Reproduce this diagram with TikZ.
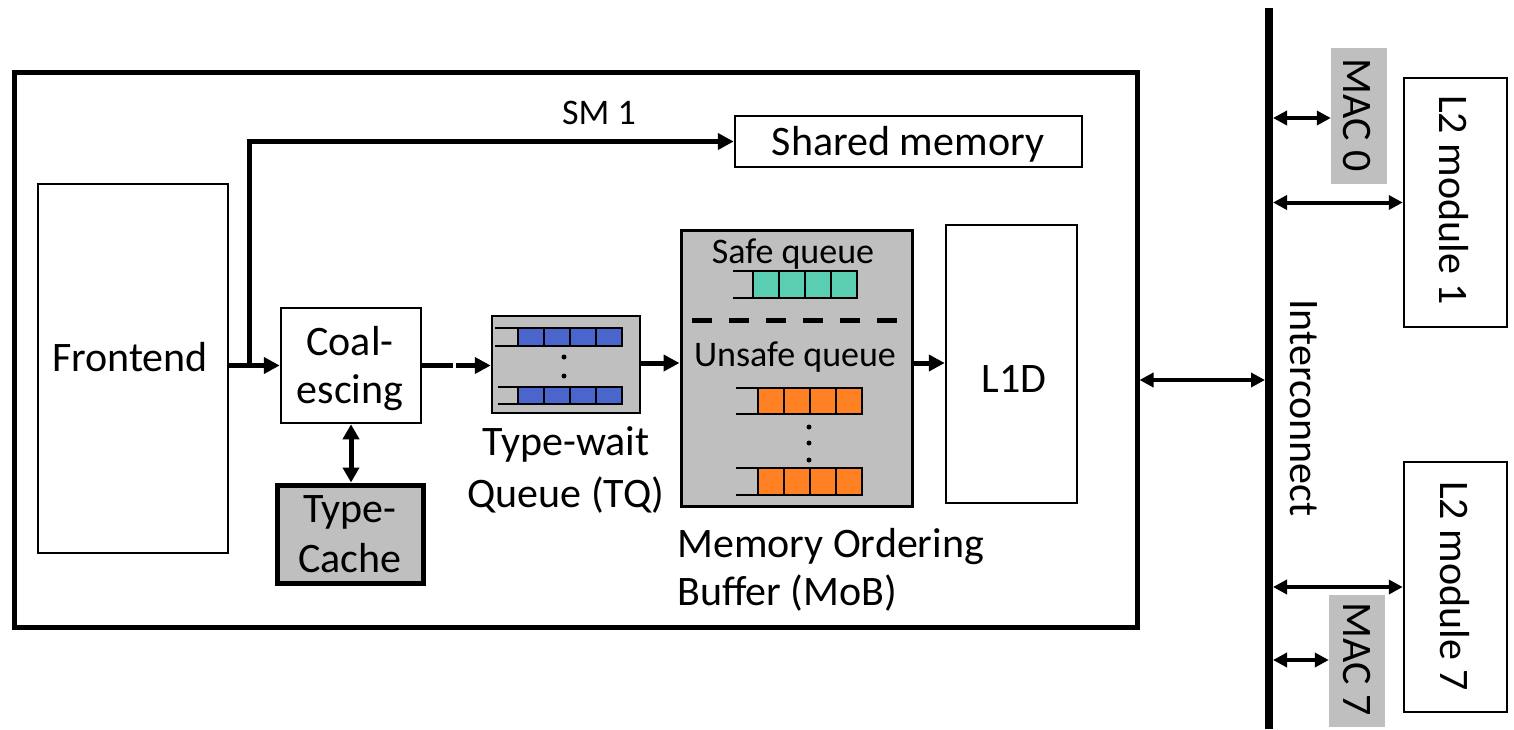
\documentclass[tikz,border=0pt]{standalone}
\usepackage{fontspec}
\setmainfont{Carlito}
\usetikzlibrary{arrows.meta}
\definecolor{boxgray}{HTML}{BFBFBF}
\definecolor{qblue}{HTML}{4A66CC}
\definecolor{qteal}{HTML}{5BCDB0}
\definecolor{qorange}{HTML}{FF8124}

% one queue: open bracket from #1 to #2, four cells from #2, top #3, height #4, colour #5
\newcommand\drawqueue[5]{%
  \draw[line width=2.2pt] (#1,#3) -- (#2,#3) (#1,#3+#4) -- (#2,#3+#4);
  \foreach \k in {0,...,3}
    \draw[line width=2.2pt, fill=#5] (#2+26*\k,#3) rectangle ++(26,#4);
}

\begin{document}
\begin{tikzpicture}[x=1pt,y=-1pt,
  block/.style={draw, line width=2.5pt, fill=white, inner sep=0pt},
  graybox/.style={block, fill=boxgray},
  arr/.style={line width=5pt, -{Triangle[length=16pt,width=16pt]}},
  dbl/.style={line width=4pt, {Triangle[length=14pt,width=14pt]}-{Triangle[length=14pt,width=14pt]}},
  dblthick/.style={line width=5pt, {Triangle[length=15pt,width=16pt]}-{Triangle[length=15pt,width=16pt]}},
  lbl/.style={inner sep=0pt, anchor=base, font=\fontsize{42}{50}\selectfont},
  smalllbl/.style={lbl, font=\fontsize{36}{42}\selectfont},
  vlbl/.style={inner sep=0pt, rotate=-90, font=\fontsize{42}{50}\selectfont},
  qdot/.style={fill=black, draw=none}
]
\useasboundingbox[fill=white] (0,0) rectangle (1514,729);

% streaming multiprocessor frame
\node[draw, line width=5pt, minimum width=1123pt, minimum height=555pt, inner sep=0pt] (sm) at (575.5,349.5) {};
\node[smalllbl] (smlbl) at (599,124) {SM 1};

% blocks inside the SM
\node[block, minimum width=190pt, minimum height=369pt] (fe) at (133,368.5) {};
\node[lbl] (fetxt) at (130,371) {Frontend};

\node[block, minimum width=140pt, minimum height=115pt] (co) at (351,365.5) {};
\node[lbl] (cotxt1) at (350,355) {Coal-};
\node[lbl] (cotxt2) at (350,403) {escing};

\node[graybox, line width=5pt, minimum width=146pt, minimum height=98pt] (tc) at (350,534) {};
\node[lbl] (tctxt1) at (350,522) {Type-};
\node[lbl] (tctxt2) at (350,572) {Cache};

\node[graybox, minimum width=148pt, minimum height=97pt] (tq) at (566,364.5) {};
\node[lbl] (tqtxt1) at (566,455) {Type-wait};
\node[lbl] (tqtxt2) at (566,507) {Queue (TQ)};

\node[graybox, line width=3pt, minimum width=231pt, minimum height=276pt] (mob) at (796.5,368) {};
\node[lbl, anchor=base west] (mobtxt1) at (677,557) {Memory Ordering};
\node[lbl, anchor=base west] (mobtxt2) at (677,605) {Buffer (MoB)};

\node[block, minimum width=131pt, minimum height=278pt] (l1d) at (1011.5,364) {};
\node[lbl] (l1dtxt) at (1014,392) {L1D};

\node[block, minimum width=347pt, minimum height=51pt] (sh) at (908.5,141.5) {};
\node[lbl] (shtxt) at (908,155) {Shared memory};

% queues of the type-wait queue
\drawqueue{495}{518}{328}{18}{qblue}
\drawqueue{498}{518}{387}{17}{qblue}
\fill[qdot] (564,357) circle (2.5pt) (564,376) circle (2.5pt);

% safe and unsafe queues of the MoB
\node[smalllbl] (safetxt) at (793,263) {Safe queue};
\drawqueue{733}{753}{271}{27}{qteal}
\draw[line width=5pt, dash pattern=on 20pt off 17pt] (692,320) -- (899,320);
\node[smalllbl] (unsafetxt) at (795,366) {Unsafe queue};
\drawqueue{736}{758}{388}{26}{qorange}
\drawqueue{736}{758}{468}{27}{qorange}
\fill[qdot] (809,427) circle (2.5pt) (809,443) circle (2.5pt) (809,460) circle (2.5pt);

% data path inside the SM
\coordinate (br) at (249,365.5);
\draw[arr] (fe.east |- co.west) -- (co.west);
\draw[arr] (br) |- (sh.west);
\draw[arr, dash pattern=on 31pt off 3pt on 300pt] (co.east) -- (tq.west |- co.east);
\draw[arr] (tq.east |- 0,363) -- (mob.west |- 0,363);
\draw[arr] (mob.east |- 0,363) -- (l1d.west |- 0,363);
\draw[dblthick] (co.south) -- (co.south |- tc.north);

% interconnect bus
\coordinate (busT) at (1269,8);
\coordinate (busB) at (1269,729);
\coordinate (busR) at (1273,0);
\coordinate (smbus) at (1265,380);
\draw[line width=8pt] (busT) -- (busB);
\node[vlbl] (bustxt) at (1304,408) {Interconnect};
\draw[dbl] (sm.east |- smbus) -- (smbus);

% memory controllers and L2 modules
\node[fill=boxgray, minimum width=56pt, minimum height=136pt, inner sep=0pt] (mac0) at (1359,116) {};
\node[vlbl] (mac0txt) at (1357,115) {MAC 0};
\node[fill=boxgray, minimum width=56pt, minimum height=132pt, inner sep=0pt] (mac7) at (1357,661) {};
\node[vlbl] (mac7txt) at (1357,659) {MAC 7};
\node[block, minimum width=103pt, minimum height=249pt] (l21) at (1455.5,202.5) {};
\node[vlbl] (l21txt) at (1454,200) {L2 module 1};
\node[block, minimum width=103pt, minimum height=250pt] (l27) at (1455.5,587) {};
\node[vlbl] (l27txt) at (1455,586) {L2 module 7};

\draw[dbl] (busR |- 0,118) -- (mac0.west |- 0,118);
\draw[dbl] (busR |- l21.west) -- (l21.west);
\draw[dbl] (busR |- l27.west) -- (l27.west);
\draw[dbl] (busR |- 0,660) -- (mac7.west |- 0,660);
\end{tikzpicture}
\end{document}
